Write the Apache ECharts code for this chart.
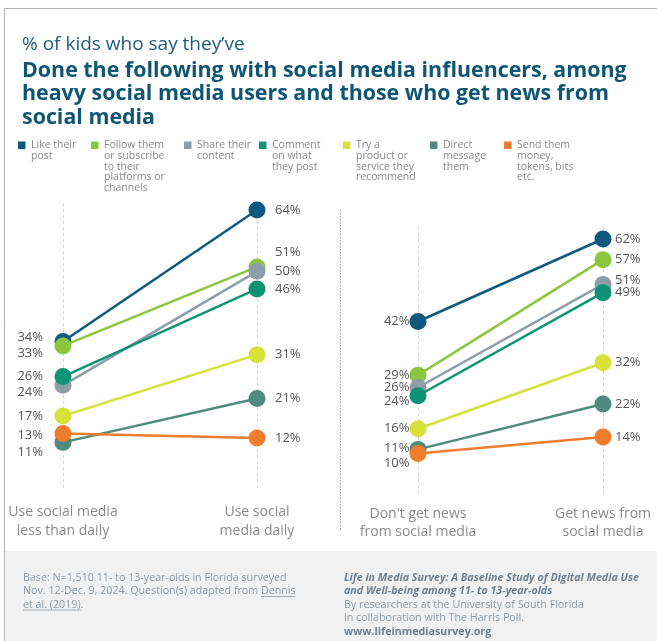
<!DOCTYPE html>
<html>
<head>
<meta charset="utf-8">
<script src="https://cdn.jsdelivr.net/npm/echarts@6/dist/echarts.min.js"></script>
<style>
  html, body { margin: 0; padding: 0; background: #fff; }
  #chart { width: 657px; height: 641px; }
</style>
</head>
<body>
<div id="chart"></div>
<script>
// Activities (legend wording, broken into lines as displayed)
const activities = [
  'Like their\npost',
  'Follow them\nor subscribe\nto their\nplatforms or\nchannels',
  'Share their\ncontent',
  'Comment\non what\nthey post',
  'Try a\nproduct or\nservice they\nrecommend',
  'Direct\nmessage\nthem',
  'Send them\nmoney,\ntokens, bits\netc.'
];
const activityColors = ['#0e5a7e', '#8cc63e', '#8d9eab', '#0f9374', '#d6e23a', '#4e8a7d', '#ef7d2d'];

// Groups compared in each panel
const usageCategories = ['Use social media\nless than daily', 'Use social\nmedia daily'];
const newsCategories = ["Don't get news\nfrom social media", 'Get news from\nsocial media'];

// % of kids, in activity order
const lessThanDaily = [34, 33, 24, 26, 17, 11, 13];
const daily         = [64, 51, 50, 46, 31, 21, 12];
const noNewsFromSM  = [42, 29, 26, 24, 16, 11, 10];
const newsFromSM    = [62, 57, 51, 49, 32, 22, 14];

// Vertical nudges for value labels that would otherwise collide
const nudgeUsageStart = [-4, 7, 7, 0, 0, 10, 2];
const nudgeUsageEnd   = [0, -15, 0, 0, 0, 0, 0];
const nudgeNewsStart  = [0, 0, 0, 6, 0, -1, 10];
const nudgeNewsEnd    = [0, 0, -4, 0, 0, 0, 0];

// Legend square x-positions
const legendX = [18, 91, 184, 259, 343, 430, 504];

const FONT = '"Open Sans", "Noto Sans", sans-serif';
const LABEL_COLOR = '#555';

function makeSeries(panel, startVals, endVals, nudgeStart, nudgeEnd, distStart, distEnd) {
  return activities.map((name, i) => ({
    name: name,
    type: 'line',
    xAxisIndex: panel,
    yAxisIndex: panel,
    symbol: 'circle',
    symbolSize: 17,
    z: 2 + i,
    lineStyle: { width: 2.5, color: activityColors[i] },
    itemStyle: { color: activityColors[i] },
    emphasis: { disabled: true },
    label: {
      show: true,
      formatter: '{c}%',
      fontFamily: FONT,
      fontSize: 13,
      color: LABEL_COLOR
    },
    data: [
      { value: startVals[i], label: { position: 'left', distance: distStart, offset: [0, nudgeStart[i]] } },
      { value: endVals[i], label: { position: 'right', distance: distEnd, offset: [0, nudgeEnd[i]] } }
    ]
  }));
}

function categoryAxis(grid, cats, margin) {
  return {
    type: 'category',
    gridIndex: grid,
    data: cats,
    boundaryGap: false,
    axisLine: { show: false },
    axisTick: { show: false },
    axisLabel: {
      margin: margin,
      fontFamily: FONT,
      fontSize: 14,
      lineHeight: 18.5,
      color: '#8a8a8a',
      interval: 0
    },
    splitLine: { show: true, lineStyle: { color: '#d4d4d4', type: [3, 3], width: 1 } }
  };
}

function valueAxis(grid, max) {
  return {
    type: 'value',
    gridIndex: grid,
    min: 0,
    max: max,
    show: false
  };
}

// Legend drawn as colour squares with wrapped captions
const legendGraphics = [];
activities.forEach((name, i) => {
  legendGraphics.push({
    type: 'rect',
    shape: { x: legendX[i], y: 141.5, width: 7.5, height: 7.5 },
    style: { fill: activityColors[i] }
  });
  legendGraphics.push({
    type: 'text',
    x: legendX[i] + 13,
    y: 139.8,
    style: {
      text: name,
      font: '10.5px ' + FONT,
      lineHeight: 10.7,
      fill: '#888',
      verticalAlign: 'top'
    }
  });
});

// Underlines for the citation link in the footer
function textWidth(str, font) {
  const c = document.createElement('canvas').getContext('2d');
  c.font = font;
  return c.measureText(str).width;
}
const FOOT_SIZE = 10.7;
const footFont = FOOT_SIZE + 'px ' + FONT;
const footLine2Pre = 'Nov. 12-Dec. 9, 2024. Question(s) adapted from ';
const linkX1 = 23 + textWidth(footLine2Pre, footFont);
const linkW1 = textWidth('Dennis', footFont);
const linkW2 = textWidth('et al. (2019)', footFont);

const chart = echarts.init(document.getElementById('chart'), null, { renderer: 'canvas' });
chart.setOption({
  animation: false,
  backgroundColor: '#fff',
  textStyle: { fontFamily: FONT },
  title: [
    {
      text: '% of kids who say they\u2019ve',
      left: 22,
      top: 33,
      padding: 0,
      textStyle: { fontFamily: FONT, fontSize: 19, fontWeight: 'normal', color: '#1d5d79', lineHeight: 24 }
    },
    {
      text: 'Done the following with social media influencers, among\nheavy social media users and those who get news from\nsocial media',
      left: 22,
      top: 59,
      padding: 0,
      textStyle: { fontFamily: FONT, fontSize: 21.4, fontWeight: 'bold', color: '#0f5674', lineHeight: 23.5 }
    }
  ],
  grid: [
    { left: 63, width: 194, top: 203, height: 287.6 },
    { left: 418, width: 185, top: 227, height: 267.75 }
  ],
  xAxis: [
    categoryAxis(0, usageCategories, 12.5),
    categoryAxis(1, newsCategories, 10)
  ],
  yAxis: [
    valueAxis(0, 287.6 / 4.385),
    valueAxis(1, 267.75 / 4.125)
  ],
  series: [
    ...makeSeries(0, lessThanDaily, daily, nudgeUsageStart, nudgeUsageEnd, 11.5, 9.5),
    ...makeSeries(1, noNewsFromSM, newsFromSM, nudgeNewsStart, nudgeNewsEnd, 0, 3.5)
  ],
  graphic: [
    // frame
    { type: 'rect', shape: { x: 5, y: 551, width: 652, height: 90 }, style: { fill: '#f1f1f1' }, z: -10 },
    { type: 'line', shape: { x1: 4.5, y1: 8.5, x2: 657, y2: 8.5 }, style: { stroke: '#b0b0b0', lineWidth: 1 } },
    { type: 'line', shape: { x1: 4.5, y1: 8.5, x2: 4.5, y2: 641 }, style: { stroke: '#b0b0b0', lineWidth: 1 } },
    // panel separator
    { type: 'line', shape: { x1: 340.5, y1: 210, x2: 340.5, y2: 530 }, style: { stroke: '#9a9a9a', lineWidth: 1, lineDash: [1.5, 1.5] } },
    ...legendGraphics,
    // footer, left
    {
      type: 'text', x: 23, y: 571,
      style: {
        text: 'Base: N=1,510 11- to 13-year-olds in Florida surveyed\n' + footLine2Pre + 'Dennis\net al. (2019).',
        font: footFont, lineHeight: 13.5, fill: '#8d9aa6', verticalAlign: 'top'
      }
    },
    { type: 'line', shape: { x1: linkX1, y1: 596.5, x2: linkX1 + linkW1, y2: 596.5 }, style: { stroke: '#8d9aa6', lineWidth: 0.8 } },
    { type: 'line', shape: { x1: 23, y1: 610, x2: 23 + linkW2, y2: 610 }, style: { stroke: '#8d9aa6', lineWidth: 0.8 } },
    // footer, right
    {
      type: 'text', x: 344, y: 571,
      style: {
        text: '{t|Life in Media Survey: A Baseline Study of Digital Media Use}\n{t|and Well-being among 11- to 13-year-olds}\n{n|By researchers at the University of South Florida}\n{n|in collaboration with The Harris Poll.}\n{b|www.lifeinmediasurvey.org}',
        verticalAlign: 'top',
        rich: {
          t: { fontFamily: FONT, fontSize: FOOT_SIZE, fontStyle: 'italic', fontWeight: 'bold', fill: '#6e7f8f', lineHeight: 13.5 },
          n: { fontFamily: FONT, fontSize: FOOT_SIZE, fill: '#8d9aa6', lineHeight: 13.5 },
          b: { fontFamily: FONT, fontSize: FOOT_SIZE, fontWeight: 'bold', fill: '#6e7f8f', lineHeight: 13.5 }
        }
      }
    }
  ]
});
</script>
</body>
</html>
